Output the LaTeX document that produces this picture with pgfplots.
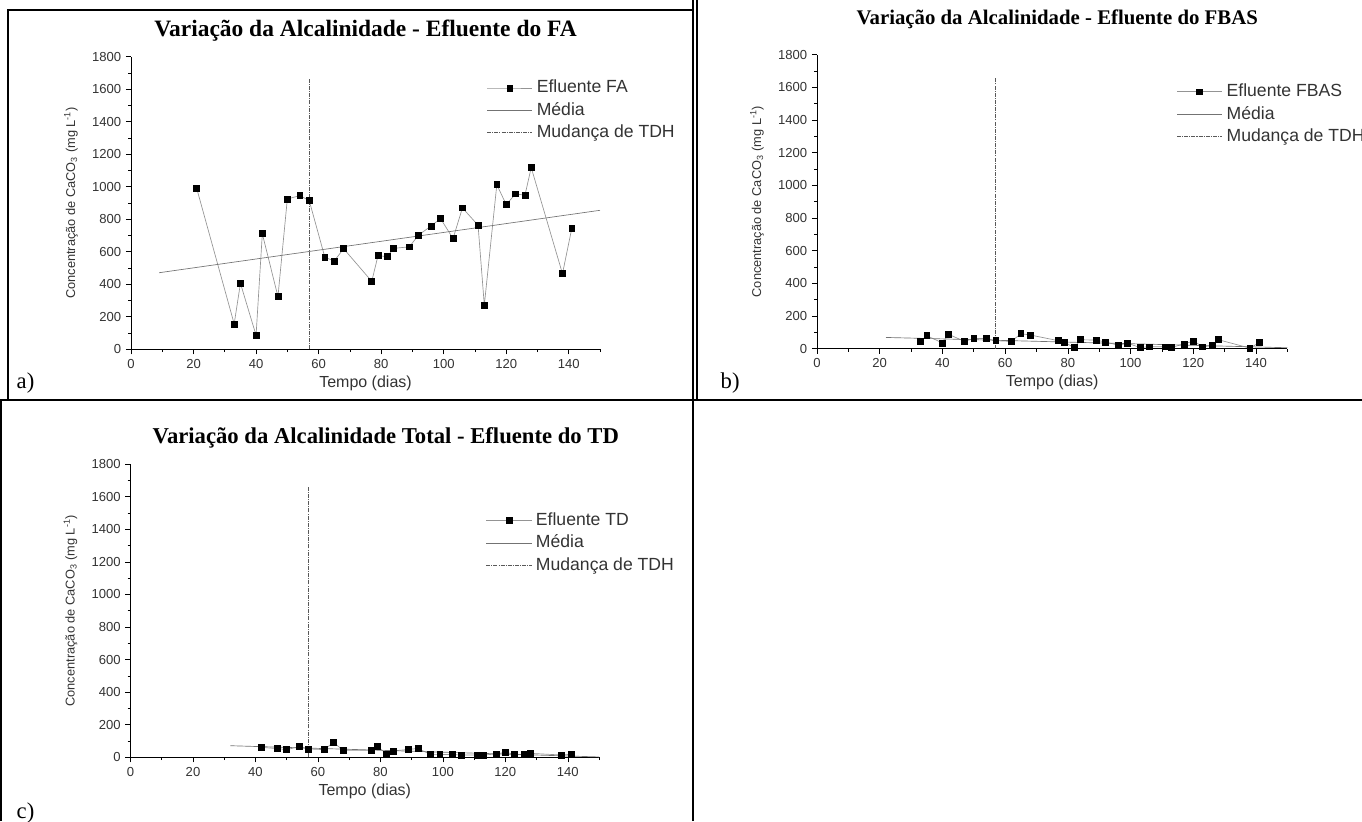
\documentclass[border=0pt]{standalone}
\usepackage{fontspec}
\setmainfont{Liberation Sans}
\newfontfamily\timesfont{Liberation Serif}
\usepackage{pgfplots}
\pgfplotsset{compat=1.18}

\definecolor{serieslc}{gray}{0.58}
\definecolor{medialc}{gray}{0.45}
\definecolor{tdhlc}{gray}{0.35}
\definecolor{ticktxt}{gray}{0.2}

\pgfplotsset{
  originplot/.style={
    scale only axis,
    axis lines*=left,
    axis line style={-, black, line width=0.6pt},
    xmin=0, xmax=150, ymin=0, ymax=1800,
    xtick={0,20,...,140}, minor xtick={10,30,...,150},
    ytick={0,200,...,1800}, minor ytick={100,300,...,1700},
    tick align=outside,
    major tick length=3.8pt, minor tick length=2.2pt,
    tick style={black, line width=0.5pt},
    /pgf/number format/assume math mode=true,
    /pgf/number format/set thousands separator={},
    tick label style={font=\fontsize{9.8}{11}\selectfont, text=ticktxt},
    xlabel={Tempo (dias)},
    ylabel={Concentração de CaCO\textsubscript{3} (mg L\textsuperscript{-1})},
    xlabel style={font=\fontsize{12}{13}\selectfont, text=ticktxt,
      at={([yshift=-25.5pt]axis description cs:0.5,0)}, anchor=center},
    ylabel style={font=\fontsize{9.6}{11}\selectfont, text=ticktxt,
      at={([xshift=-45pt]axis description cs:0,0.5)}, anchor=center},
    title style={font=\timesfont\bfseries\fontsize{17.6}{19}\selectfont,
      at={(axis description cs:0.5,1)}, anchor=center, yshift=13.5pt},
    legend cell align=left,
    legend style={draw=none, fill=none, anchor=north west, inner sep=0pt,
      font=\fontsize{13.2}{14}\selectfont, text=ticktxt, row sep=3.2pt,
      nodes={inner sep=1pt, text height=9.4pt, text depth=2.2pt},
      /tikz/every odd column/.append style={column sep=2pt}},
    clip=false,
  },
  serie/.style={color=serieslc, line width=0.5pt, mark=square*, mark size=2.2pt,
    mark options={black, fill=black, solid},
    legend image code/.code={\draw[mark repeat=2, mark phase=2, ##1]
      plot coordinates {(0pt,0pt) (17pt,0pt) (34pt,0pt)};}},
  media/.style={color=medialc, line width=0.5pt, no marks,
    legend image code/.code={\draw[##1] (0pt,0pt) -- (34pt,0pt);}},
  tdh/.style={color=tdhlc, line width=0.5pt, no marks,
    dash pattern=on 3pt off 0.8pt on 0.8pt off 0.8pt,
    legend image code/.code={\draw[##1] (0pt,0pt) -- (34pt,0pt);}},
}

\begin{document}
\begin{tikzpicture}[x=0.75pt,y=0.75pt]
\path[use as bounding box] (0,0) rectangle (1362,821);
\begin{scope}
\clip (0,0) rectangle (1362,821);

% table grid
\draw[black, line width=1.2pt] (693,0) -- (693,821);
\draw[black, line width=1.2pt] (0,421) -- (1362,421);
\draw[black, line width=1.0pt] (8,421) -- (8,811) -- (693,811);
\draw[black, line width=1.0pt] (697,821) -- (697,421);
\draw[black, line width=1.0pt] (1,0) -- (1,421);

% ---------- a) Efluente do FA ----------
\begin{axis}[originplot,
  at={(98.25pt,353.8pt)}, anchor=origin,
  width=351.75pt, height=219.4pt,
  title={Variação da Alcalinidade - Efluente do FA},
  legend style={at={(0.758,0.925)}}]
\addplot[serie] coordinates {
 (21,991) (33,156) (35,406) (40,86) (42,711) (47,324) (50,925) (54,945)
 (57,915) (62,566) (65,543) (68,619) (77,418) (79,576) (82,570) (84,621)
 (89,630) (92,703) (96,759) (99,804) (103,681) (106,870) (111,763) (113,271)
 (117,1013) (120,890) (123,956) (126,948) (128,1118) (138,465) (141,746)};
\addlegendentry{Efluente FA}
\addplot[media] coordinates {(9,471) (150,855)};
\addlegendentry{Média}
\addplot[tdh] coordinates {(57,0) (57,1660)};
\addlegendentry{Mudança de TDH}
\end{axis}

% ---------- b) Efluente do FBAS ----------
\begin{axis}[originplot,
  at={(612.75pt,354.2pt)}, anchor=origin,
  width=352.8pt, height=220.65pt,
  title={Variação da Alcalinidade - Efluente do FBAS},
  title style={xshift=3.75pt, yshift=7pt, font=\timesfont\bfseries\fontsize{15.6}{17}\selectfont},
  legend style={at={(0.764,0.905)}}]
\addplot[serie] coordinates {
 (33,45) (35,80) (40,35) (42,88) (47,45) (50,63) (54,63) (57,49)
 (62,45) (65,92) (68,84) (77,49) (79,39) (82,6) (84,55) (89,53)
 (92,41) (96,22) (99,33) (103,8) (106,12) (111,12) (113,8) (117,29)
 (120,47) (123,12) (126,20) (128,55) (138,4) (141,37)};
\addlegendentry{Efluente FBAS}
\addplot[media] coordinates {(22,69) (150,6)};
\addlegendentry{Média}
\addplot[tdh] coordinates {(57,0) (57,1660)};
\addlegendentry{Mudança de TDH}
\end{axis}

% ---------- c) Efluente do TD ----------
\begin{axis}[originplot,
  at={(97.9pt,47.8pt)}, anchor=origin,
  width=351.4pt, height=219.75pt,
  title={Variação da Alcalinidade Total - Efluente do TD},
  title style={xshift=15.75pt, font=\timesfont\bfseries\fontsize{17}{19}\selectfont},
  legend style={at={(0.758,0.84)}}]
\addplot[serie] coordinates {
 (42,61) (47,53) (50,47) (54,65) (57,51) (62,47) (65,92) (68,43)
 (77,43) (79,67) (82,20) (84,39) (89,48) (92,54) (96,18) (99,18)
 (103,16) (106,14) (111,14) (113,14) (117,20) (120,31) (123,18) (126,16)
 (128,24) (138,14) (141,18)};
\addlegendentry{Efluente TD}
\addplot[media] coordinates {(32,71) (150,2)};
\addlegendentry{Média}
\addplot[tdh] coordinates {(57,0) (57,1660)};
\addlegendentry{Mudança de TDH}
\end{axis}

% panel letters
\node[font=\timesfont\fontsize{17}{18}\selectfont, anchor=west] at (12,438) {a)};
\node[font=\timesfont\fontsize{17}{18}\selectfont, anchor=west] at (716,438) {b)};
\node[font=\timesfont\fontsize{17}{18}\selectfont, anchor=west] at (12,8) {c)};
\end{scope}
\end{tikzpicture}
\end{document}
